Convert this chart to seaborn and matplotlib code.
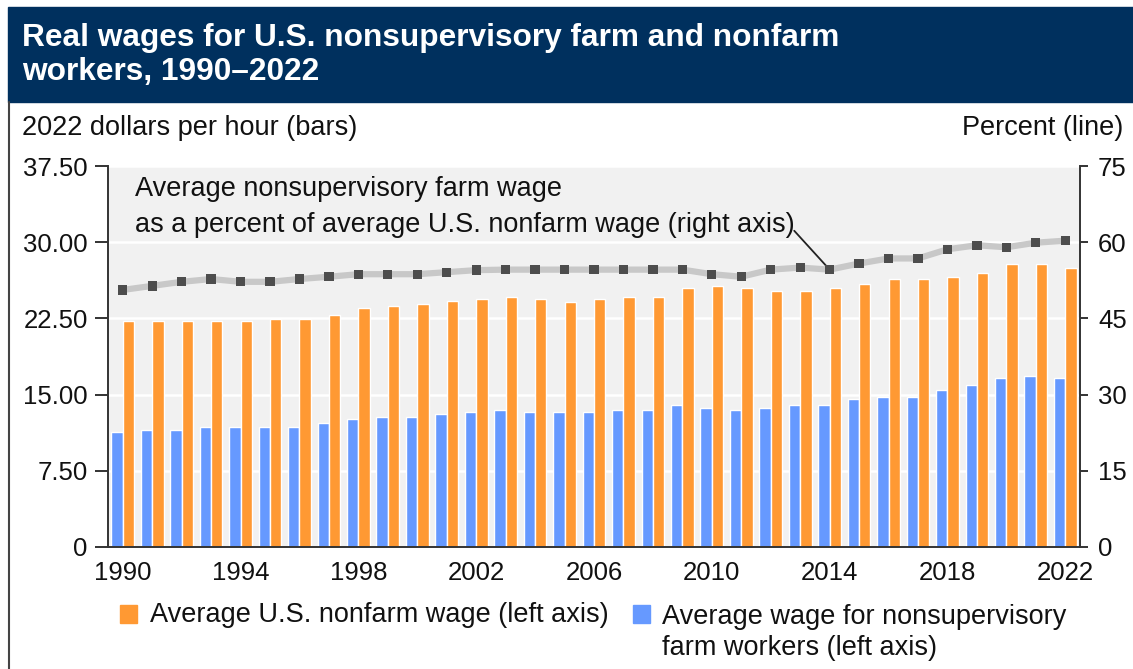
import matplotlib.pyplot as plt
import numpy as np
import pandas as pd
import seaborn as sns
from matplotlib.lines import Line2D
from matplotlib.patches import Rectangle

# values
years = list(range(1990, 2023))
nonfarm_wage = [22.2, 22.2, 22.2, 22.2, 22.2, 22.4, 22.4, 22.8, 23.5, 23.75, 23.95, 24.2, 24.4,
                24.6, 24.4, 24.15, 24.4, 24.6, 24.6, 25.45, 25.7, 25.45, 25.2, 25.2, 25.45, 25.9,
                26.4, 26.4, 26.6, 27.0, 27.9, 27.9, 27.5]
farm_wage = [11.35, 11.5, 11.5, 11.8, 11.8, 11.8, 11.8, 12.2, 12.6, 12.8, 12.8, 13.05, 13.3,
             13.5, 13.3, 13.3, 13.3, 13.5, 13.5, 13.95, 13.7, 13.5, 13.7, 13.95, 13.95, 14.6,
             14.8, 14.8, 15.5, 15.9, 16.6, 16.8, 16.6]
farm_pct = [50.6, 51.4, 52.2, 52.75, 52.2, 52.2, 52.75, 53.2, 53.7, 53.7, 53.7, 54.1, 54.5,
            54.6, 54.6, 54.6, 54.6, 54.6, 54.6, 54.6, 53.7, 53.2, 54.6, 55.0, 54.6, 55.8,
            56.8, 56.8, 58.6, 59.4, 59.0, 59.9, 60.3]

left_ticks = [0, 7.5, 15, 22.5, 30, 37.5]
left_labels = ["0", "7.50", "15.00", "22.50", "30.00", "37.50"]
right_ticks = [0, 15, 30, 45, 60, 75]

FARM = "Average wage for nonsupervisory\nfarm workers (left axis)"
NONFARM = "Average U.S. nonfarm wage (left axis)"
ORANGE = "#ff9933"
BLUE = "#6699ff"
NAVY = "#00305e"
DARK = "#333333"
TXT = "#111111"
FS = 19.5      # body text
TICK_FS = 18.5

df = pd.DataFrame({
    "year": years * 2,
    "wage": farm_wage + nonfarm_wage,
    "series": [FARM] * len(years) + [NONFARM] * len(years),
})


def main():
    sns.set_style("white", {"axes.facecolor": "#f1f1f1"})
    plt.rcParams["font.family"] = ["Liberation Sans", "DejaVu Sans"]

    W, H = 1133, 669
    fig = plt.figure(figsize=(W / 100, H / 100), dpi=100)

    def fx(px):
        return px / W

    def fy(py):
        return 1 - py / H

    # plot area in pixels: left 108, right 1080, top 166, bottom 547
    ax = fig.add_axes([fx(108), fy(547), fx(1080) - fx(108), fy(166) - fy(547)])

    sns.barplot(
        data=df, x="year", y="wage", hue="series",
        hue_order=[FARM, NONFARM], palette=[BLUE, ORANGE],
        width=0.77, saturation=1, legend=False, ax=ax, zorder=2,
    )
    ax.set_xlim(-0.5, len(years) - 0.5)
    ax.set_ylim(0, 37.5)
    ax.set_yticks(left_ticks)
    ax.set_yticklabels(left_labels)
    ax.set_xticks(range(len(years)))
    ax.set_xticklabels([str(y) if (y - 1990) % 4 == 0 else "" for y in years])
    ax.set_xlabel("")
    ax.set_ylabel("")
    ax.yaxis.grid(True, color="white", lw=1.8, zorder=0)
    ax.set_axisbelow(True)
    for s in ["top", "right"]:
        ax.spines[s].set_visible(False)
    for s in ["left", "bottom"]:
        ax.spines[s].set_color(DARK)
        ax.spines[s].set_linewidth(1.4)
    ax.tick_params(axis="y", direction="out", length=9.5, width=1.4, color=DARK,
                   labelsize=TICK_FS, pad=5, labelcolor=TXT)
    ax.tick_params(axis="x", direction="out", length=6, width=1.2, color=DARK,
                   labelsize=TICK_FS, pad=4, labelcolor=TXT)

    # percent line on right axis
    ax2 = ax.twinx()
    xs = np.arange(len(years))
    sns.lineplot(x=xs, y=farm_pct, ax=ax2, color="#c8c8c8", lw=4.5, zorder=3)
    sns.scatterplot(x=xs, y=farm_pct, ax=ax2, marker="s", s=45, color="#4d4d4d",
                    edgecolor="none", zorder=4)
    ax2.set_ylim(0, 75)
    ax2.set_yticks(right_ticks)
    ax2.grid(False)
    for s in ["top", "left", "bottom"]:
        ax2.spines[s].set_visible(False)
    ax2.spines["right"].set_visible(True)
    ax2.spines["right"].set_color(DARK)
    ax2.spines["right"].set_linewidth(1.4)
    ax2.tick_params(axis="y", direction="out", length=6, width=1.4, color=DARK,
                    labelsize=TICK_FS, pad=7, labelcolor=TXT, right=True)

    ax2.text(0.028, 0.892,
             "Average nonsupervisory farm wage\nas a percent of average U.S. nonfarm wage (right axis)",
             transform=ax2.transAxes, ha="left", va="center", fontsize=FS,
             linespacing=1.5, color=TXT)
    i14 = years.index(2014)
    ax2.annotate("", xy=(i14, farm_pct[i14]), xytext=(0.706, 0.830),
                 textcoords="axes fraction",
                 arrowprops=dict(arrowstyle="-", color="#222222", lw=1.3,
                                 shrinkA=0, shrinkB=4))

    # title banner
    fig.patches.append(Rectangle((fx(8), fy(102)), 1 - fx(8), fy(7) - fy(102),
                                 transform=fig.transFigure, color=NAVY, zorder=0))
    fig.add_artist(Line2D([fx(9), fx(9)], [fy(102), 0], color="#444444", lw=1.5))
    fig.text(fx(22), fy(55), "Real wages for U.S. nonsupervisory farm and nonfarm\nworkers, 1990\u20132022",
             color="white", fontsize=22.8, fontweight="bold", ha="left", va="center",
             linespacing=1.2)

    # axis titles
    fig.text(fx(22), fy(128), "2022 dollars per hour (bars)", fontsize=FS,
             ha="left", va="center", color=TXT)
    fig.text(fx(1123), fy(128), "Percent (line)", fontsize=FS,
             ha="right", va="center", color=TXT)

    # legend
    fig.patches.append(Rectangle((fx(120), fy(623)), fx(17), fy(605) - fy(623),
                                 transform=fig.transFigure, color=ORANGE))
    fig.text(fx(150), fy(615), NONFARM, fontsize=FS, ha="left", va="center", color=TXT)
    fig.patches.append(Rectangle((fx(633), fy(623)), fx(17), fy(605) - fy(623),
                                 transform=fig.transFigure, color=BLUE))
    fig.text(fx(662), fy(632.5), FARM, fontsize=FS, ha="left", va="center",
             linespacing=1.28, color=TXT)

    fig.savefig("out.png", dpi=100)


if __name__ == "__main__":
    main()
